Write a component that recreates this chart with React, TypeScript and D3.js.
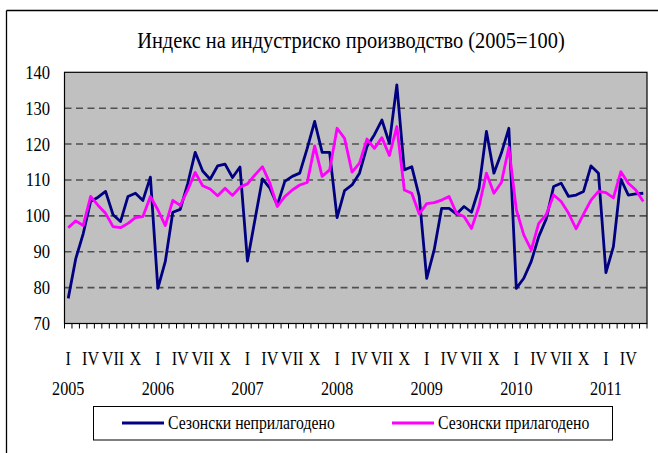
import React from "react";
import * as d3 from "d3";

const title = "Индекс на индустриско производство (2005=100)";
const years = ["2005", "2006", "2007", "2008", "2009", "2010", "2011"];
const monthLabels = ["I", "IV", "VII", "X"];
const yTicks = [70, 80, 90, 100, 110, 120, 130, 140];
const seriesNames = ["Сезонски неприлагодено", "Сезонски прилагодено"];

const notAdjusted = [
  77, 88, 95, 104, 105.2, 106.8, 100.3, 98.4, 105.4, 106.3, 104.3, 110.8,
  79.8, 87.3, 101, 101.8, 109, 117.7, 112.5, 110.2, 113.9, 114.4, 110.7, 113.6,
  87.4, 98.9, 110.3, 107.7, 103, 109.6, 111, 111.9, 118.8, 126.3, 117.7, 117.7,
  99.5, 107, 108.6, 111.9, 119.3, 122.6, 126.7, 120.2, 136.5, 112.8, 113.7, 105.4,
  82.6, 90.5, 102.1, 102.1, 100.5, 102.6, 101, 107.7, 123.5, 111.9, 117.5, 124.4,
  79.8, 82.6, 87.3, 94.2, 99.1, 108.2, 109.1, 105.4, 105.8, 106.8, 113.9, 111.9,
  84.2, 91.4, 110.2, 105.8, 106.1, 106.3,
];

const adjusted = [
  96.7, 98.6, 97.3, 105.4, 102.9, 100.7, 97, 96.7, 97.9, 99.5, 99.8, 105.4,
  101.7, 97.3, 104.3, 102.9, 107.2, 112.1, 108.4, 107.5, 105.6, 107.7, 105.7, 108,
  108.9, 111.4, 113.7, 109.1, 102.6, 105.4, 107.2, 108.6, 109.3, 119.5, 111, 112.8,
  124.4, 121.6, 112.2, 114.7, 121.4, 118.8, 121.8, 116.8, 124.9, 107.2, 106.3, 100.5,
  103.4, 103.7, 104.4, 105.4, 100.7, 99.8, 96.5, 102.6, 111.9, 106.3, 109.3, 119.1,
  101.7, 94.7, 90.5, 97.9, 100.3, 105.8, 104, 100.7, 96.4, 100.5, 104.4, 106.8,
  106.5, 105, 112.3, 109.1, 107.2, 104,
];

const FONT = "'Liberation Serif', 'Times New Roman', serif";
const SX = 0.85;

function T({ x, y, anchor = "middle", size = 19, children }: any) {
  return (
    <text
      transform={`translate(${x},${y}) scale(${SX},1)`}
      textAnchor={anchor}
      fontFamily={FONT}
      fontSize={size}
      fill="#000"
    >
      {children}
    </text>
  );
}

export default function App() {
  const W = 658, H = 453;
  const left = 64.5, right = 647, top = 72.3, bottom = 323.5;
  const n = notAdjusted.length;
  const x = d3.scaleBand<number>().domain(d3.range(n)).range([left, right]).padding(0);
  const bw = x.bandwidth();
  const cx = (i: number) => (x(i) as number) + bw / 2;
  const y = d3.scaleLinear().domain([70, 140]).range([bottom, top]);
  const line = d3.line<number>().x((_, i) => cx(i)).y((d) => y(d));

  return (
    <svg width={W} height={H} style={{ position: "absolute", left: 0, top: 0, background: "#fff" }}>
      <rect x={0} y={0} width={W} height={H} fill="#fff" />
      {/* outer frame */}
      <line x1={6.5} y1={10.5} x2={W} y2={10.5} stroke="#000" strokeWidth={1.3} />
      <line x1={6.5} y1={10.5} x2={6.5} y2={H} stroke="#000" strokeWidth={1.3} />

      <T x={351} y={48} size={24}>{title}</T>

      {/* plot area */}
      <rect x={left} y={top} width={right - left} height={bottom - top} fill="#C0C0C0" />
      {yTicks.filter((v) => v > 70 && v < 140).map((v) => (
        <line key={v} x1={left} x2={right} y1={y(v)} y2={y(v)} stroke="#505050" strokeWidth={1.6} strokeDasharray="7,4.5" />
      ))}
      <rect x={left} y={top} width={right - left} height={bottom - top} fill="none" stroke="#000" strokeWidth={1.2} />

      {/* x ticks */}
      {d3.range(n + 1).map((k) => {
        const xx = left + k * bw;
        return <line key={k} x1={xx} x2={xx} y1={bottom} y2={bottom + 5} stroke="#000" strokeWidth={1} />;
      })}

      {/* y labels */}
      {yTicks.map((v) => (
        <T key={v} x={50} y={y(v) + 6.5} anchor="end" size={19.5}>{v}</T>
      ))}

      {/* month labels */}
      {d3.range(n).filter((i) => i % 3 === 0).map((i) => (
        <T key={i} x={cx(i)} y={365}>{monthLabels[(i % 12) / 3]}</T>
      ))}
      {years.map((yr, k) => (
        <T key={yr} x={cx(k * 12)} y={394.5}>{yr}</T>
      ))}

      {/* series */}
      <path d={line(notAdjusted) as string} fill="none" stroke="#000080" strokeWidth={2.8} strokeLinejoin="round" />
      <path d={line(adjusted) as string} fill="none" stroke="#FF00FF" strokeWidth={2.8} strokeLinejoin="round" />

      {/* legend */}
      <rect x={93.5} y={406.5} width={519} height={33.5} fill="#fff" stroke="#000" strokeWidth={1} />
      <line x1={122} x2={164} y1={423} y2={423} stroke="#000080" strokeWidth={3} />
      <T x={168} y={429} anchor="start" size={18.5}>{seriesNames[0]}</T>
      <line x1={392} x2={434} y1={423} y2={423} stroke="#FF00FF" strokeWidth={3} />
      <T x={438} y={429} anchor="start" size={18.5}>{seriesNames[1]}</T>
    </svg>
  );
}
